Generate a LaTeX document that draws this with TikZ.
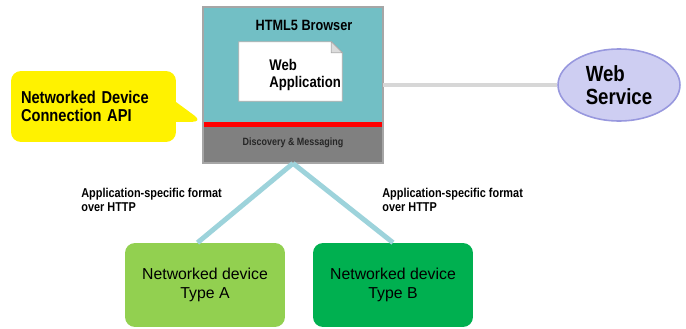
\documentclass[tikz,border=0pt]{standalone}
\usepackage{fontspec}
\setmainfont{Liberation Sans}
\newfontfamily\condfont[FakeStretch=0.85]{Liberation Sans}
\usetikzlibrary{shapes.geometric,shapes.callouts}
\definecolor{browserteal}{RGB}{114,191,197}
\definecolor{msggray}{RGB}{128,128,128}
\definecolor{bordergray}{RGB}{166,166,166}
\definecolor{docgray}{RGB}{170,170,170}
\definecolor{foldgray}{RGB}{220,220,220}
\definecolor{linkblue}{RGB}{157,211,219}
\definecolor{linkgray}{RGB}{215,215,215}
\definecolor{servicefill}{RGB}{206,206,242}
\definecolor{servicedraw}{RGB}{152,152,222}
\definecolor{devAgreen}{RGB}{146,208,80}
\definecolor{devBgreen}{RGB}{0,176,80}
\newcommand{\setfs}[2]{\fontsize{#1}{#2}\selectfont}

\begin{document}
\begin{tikzpicture}[x=0.02cm,y=-0.02cm,
		layer/.style={minimum width=3.6cm, inner sep=0pt},
		device/.style={rounded corners=0.2cm, minimum width=3.2cm, minimum height=1.68cm, align=center, font=\setfs{9}{11}},
		fmt/.style={anchor=west, align=left, inner sep=0pt, font=\condfont\bfseries\setfs{7.3}{8}},
		link/.style={line width=2.8pt, linkblue}]

		\useasboundingbox (0,0) rectangle (686,328);

		% browser with its messaging layer
		\node[layer, fill=browserteal, minimum height=2.3cm] (browser) at (293,64.5) {};
		\node[layer, fill=msggray, minimum height=0.82cm, text=black!85, font=\condfont\bfseries\setfs{6}{7}] (msg) at (293,142.5) {\raisebox{-3pt}{Discovery \& Messaging}};
		\draw[red, line width=2.8pt] ([yshift=-1.4pt]msg.north west) -- ([yshift=-1.4pt]msg.north east);
		\draw[bordergray, line width=1.1pt] (browser.north west) rectangle (msg.south east);
		\node[inner sep=0pt, font=\condfont\bfseries\setfs{8.5}{10}] (title) at (304,25) {HTML5 Browser};

		% web application page
		\node[minimum width=2.06cm, minimum height=1.18cm, inner sep=0pt] (webapp) at (290.5,71.5) {};
		\filldraw[fill=white, draw=docgray] (webapp.south west) -- (webapp.north west) -- ([xshift=-0.22cm]webapp.north east) -- ([yshift=-0.22cm]webapp.north east) -- (webapp.south east) -- cycle;
		\filldraw[fill=foldgray, draw=docgray] ([xshift=-0.22cm]webapp.north east) -- ([xshift=-0.22cm,yshift=-0.22cm]webapp.north east) -- ([yshift=-0.22cm]webapp.north east) -- cycle;
		\node[anchor=west, align=left, inner sep=0pt, font=\condfont\bfseries\setfs{8.8}{9.2}] (apptext) at (269,75) {Web\\Application};

		% API callout
		\node[rectangle callout, fill=yellow, rounded corners=0.2cm, callout absolute pointer={(msg.north west)}, callout pointer width=0.4cm,
			minimum width=3.3cm, minimum height=1.42cm, text width=2.9cm, inner xsep=0.2cm, align=left,
			font=\condfont\bfseries\setfs{9.8}{10.4}] (api) at (93.5,106.5) {Networked Device\\Connection API};

		% web service
		\node[ellipse, fill=servicefill, draw=servicedraw, line width=0.9pt, minimum width=2.44cm, minimum height=1.44cm,
			align=left, font=\condfont\bfseries\setfs{12.5}{13}] (service) at (619,85) {Web\\Service};
		\draw[linkgray, line width=2.3pt] (service.west -| browser.east) -- (service.west);

		% devices
		\node[device, fill=devAgreen] (devA) at (205,285) {Networked device\\Type A};
		\node[device, fill=devBgreen] (devB) at (393,285) {Networked device\\Type B};
		\draw[link] (msg.south) -- (devA.100);
		\draw[link] (msg.south) -- (devB.north);

		\node[fmt] (fmtA) at (81,200) {Application-specific format\\over HTTP};
		\node[fmt] (fmtB) at (382,200) {Application-specific format\\over HTTP};

	\end{tikzpicture}
\end{document}
